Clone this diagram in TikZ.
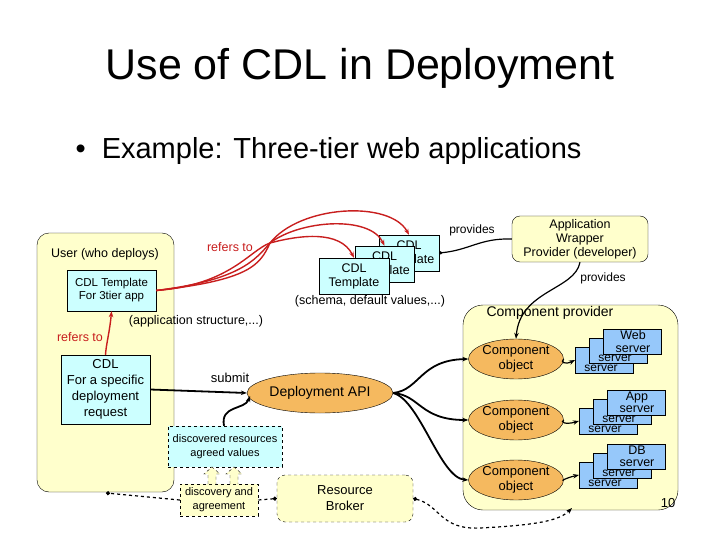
\documentclass[tikz,border=0pt]{standalone}
\usepackage{fontspec}
\setmainfont{Liberation Sans}
\usetikzlibrary{shapes.geometric,arrows.meta}
\definecolor{cy}{RGB}{204,255,255}
\definecolor{yl}{RGB}{255,255,204}
\definecolor{bl}{RGB}{150,200,250}
\definecolor{or}{RGB}{245,185,95}
\definecolor{rd}{RGB}{200,30,30}
\tikzset{
 t/.style={font=\fontsize{11.5}{13}\selectfont,align=center,inner sep=1pt},
 cbox/.style={draw,fill=cy,t},
 ybox/.style={draw,fill=yl,rounded corners=12pt},
 srv/.style={draw,fill=bl},
 ell/.style={draw,ellipse,fill=or,t},
 red/.style={rd,line width=1.4pt,-{Stealth[length=6pt]}},
 blk/.style={black,line width=1.8pt,-{Stealth[length=6pt]}},
 dsh/.style={black,dashed,line width=1.2pt},
}
\begin{document}
\begin{tikzpicture}[x=1pt,y=-1pt]
\useasboundingbox (0,0) rectangle (720,540);
\node[font=\fontsize{43}{48}\selectfont] (title) at (360,68) {Use of CDL in Deployment};
\node[font=\fontsize{29}{34}\selectfont,anchor=west] (bul) at (72,151) {\textbullet\ \ Example: Three-tier web applications};
% user box
\draw[ybox] (37,233) rectangle (174,492);
\node[t,font=\fontsize{12.5}{14}\selectfont] (user) at (105,254) {User (who deploys)};
\node[cbox,minimum width=89pt,minimum height=41pt] (tpl) at (111.5,290.5) {CDL Template\\For 3tier app};
\node[t,font=\fontsize{12.5}{14}\selectfont] (appst) at (196,321) {(application structure,...)};
\node[t,text=rd,font=\fontsize{12.5}{14}\selectfont] (ref2) at (80,337) {refers to};
\node[cbox,minimum width=89pt,minimum height=69pt,font=\fontsize{13}{16}\selectfont] (spec) at (105.5,389.5) {CDL\\For a specific\\deployment\\request};
\draw[red] (spec.north) .. controls (106,345) and (110,330) .. (tpl.south);
% templates
\node[cbox,minimum width=60pt,minimum height=36pt,font=\fontsize{12.5}{14}\selectfont] (c3) at (409,253) {CDL\\Template};
\node[cbox,minimum width=59pt,minimum height=36pt,font=\fontsize{12.5}{14}\selectfont] (c2) at (384.5,264) {CDL\\Template};
\node[cbox,minimum width=70pt,minimum height=36pt,font=\fontsize{12.5}{14}\selectfont] (c1) at (354,276) {CDL\\Template};
\node[t,font=\fontsize{12.5}{14}\selectfont] (sch) at (370,301) {(schema, default values,...)};
\node[t,text=rd,font=\fontsize{12.5}{14}\selectfont] (ref1) at (230,247) {refers to};
\coordinate (m) at (270,243);
\draw[red] (tpl.east) .. controls (230,285) and (250,250) .. (m) .. controls (300,205) and (390,200) .. (c3.north);
\draw[red] (tpl.east) .. controls (240,280) and (255,260) .. (m) .. controls (300,220) and (370,215) .. (c2.north);
\draw[red] (tpl.east) .. controls (250,280) and (260,265) .. (m) .. controls (300,235) and (340,230) .. (c1.north);
% app wrapper
\node[t,draw,fill=yl,rounded corners=8pt,minimum width=136pt,minimum height=46pt,font=\fontsize{12.5}{14}\selectfont] (aw) at (580,239) {Application\\Wrapper\\Provider (developer)};
\node[t,font=\fontsize{12}{14}\selectfont] (pr1) at (472,230) {provides};
\node[t,font=\fontsize{12}{14}\selectfont] (pr2) at (603,278) {provides};
\draw[line width=1.2pt,{Circle[length=3pt]}-] (c3.east) .. controls (470,250) and (480,238) .. (aw.west);
% component provider
\draw[ybox,rounded corners=20pt] (463,305) rectangle (678,510);
\node[t,font=\fontsize{14}{16}\selectfont] (cp) at (550,313) {Component provider};
\node[ell,minimum width=72pt,minimum height=40pt,font=\fontsize{13}{14.5}\selectfont,inner sep=0pt] (o1) at (516,359) {Component\\object};
\node[ell,minimum width=72pt,minimum height=40pt,font=\fontsize{13}{14.5}\selectfont,inner sep=0pt] (o2) at (516,420) {Component\\object};
\node[ell,minimum width=72pt,minimum height=40pt,font=\fontsize{13}{14.5}\selectfont,inner sep=0pt] (o3) at (516,480) {Component\\object};
\draw[line width=1.2pt,-{Stealth[length=6pt]}] (aw.south) .. controls (575,290) and (520,290) .. (o1.north);
% server stacks
\foreach \n/\x/\y/\lab in {w/575/347/Web, a/579/408/App, d/579/462/DB}{
 \draw[srv] (\x,\y) rectangle ++(58,26);
 \node[t,font=\fontsize{12}{12}\selectfont,inner sep=0pt] (\n3) at (\x+26,\y+21) {server};
 \draw[srv] (\x+14,\y-9) rectangle ++(58,25);
 \node[t,font=\fontsize{12}{12}\selectfont,inner sep=0pt] (\n2) at (\x+40,\y+11) {server};
 \draw[srv] (\x+28,\y-18) rectangle ++(58,25);
 \node[t,font=\fontsize{12.5}{12.5}\selectfont,inner sep=0pt] (\n1) at (\x+58,\y-5.5) {\lab\\server};
 \coordinate (\n s) at (\x,\y+13);
}
\draw[line width=1.2pt,-{Stealth[length=6pt]}] (o1.east) .. controls (560,362) and (565,365) .. (ws);
\draw[line width=1.2pt,-{Stealth[length=6pt]}] (o2.east) .. controls (560,422) and (565,425) .. (as);
\draw[line width=1.2pt,-{Stealth[length=6pt]}] (o3.east) .. controls (560,482) and (565,478) .. (ds);
% deployment api
\node[ell,minimum width=124pt,minimum height=40pt,font=\fontsize{14}{16}\selectfont] (api) at (320,393) {Deployment API};
\node[t,font=\fontsize{13}{15}\selectfont] (sub) at (230,378) {submit};
\draw[blk] (spec.east) -- (api.west);
\draw[blk] (api.east) .. controls (420,390) and (420,360) .. (o1.west);
\draw[blk] (api.east) .. controls (420,395) and (420,420) .. (o2.west);
\draw[blk] (api.east) .. controls (420,400) and (440,478) .. (o3.west);
\node[cbox,dashed,minimum width=114pt,minimum height=41pt,font=\fontsize{11}{14}\selectfont] (disc) at (225,446.5) {discovered resources\\agreed values};
\draw[blk] (disc.north) ++(-1,0) .. controls (220,405) and (245,410) .. (250,396);
\node[t,draw,dashed,fill=yl,minimum width=78pt,minimum height=32pt,font=\fontsize{11}{14}\selectfont] (dis) at (219,500) {discovery and\\agreement};
\node[t,draw,dashed,fill=yl,rounded corners=8pt,minimum width=136pt,minimum height=47pt,font=\fontsize{13}{16}\selectfont] (rb) at (345,498.5) {Resource\\Broker};
\draw[dashed,draw=black,fill=yl,thin] (208,484) -- (208,474) -- (204,474) -- (212,467) -- (220,474) -- (216,474) -- (216,484);
\draw[dashed,draw=black,fill=yl,thin] (230,484) -- (230,474) -- (226,474) -- (234,467) -- (242,474) -- (238,474) -- (238,484);
\draw[dsh,-{Circle[length=4pt]}] (dis.west) -- (106,493);
\draw[dsh,{Circle[length=4pt]}-] (rb.west) -- (dis.east);
\draw[dsh,{Circle[length=4pt]}-{Stealth[length=6pt]}] (rb.east) .. controls (440,505) and (440,530) .. (480,528) .. controls (540,525) and (560,520) .. (572,508);
\node[t,font=\fontsize{13}{15}\selectfont] (pg) at (668,503) {10};
\end{tikzpicture}
\end{document}
